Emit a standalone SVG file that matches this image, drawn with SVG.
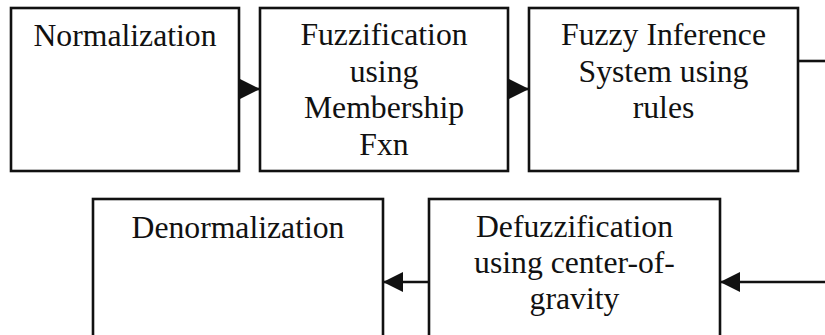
<svg xmlns="http://www.w3.org/2000/svg" width="825" height="335" viewBox="0 0 825 335">
  <defs>
    <style>
      .box { fill: #ffffff; stroke: #111111; stroke-width: 2.6; }
      .lbl { font-family: "Liberation Serif", "Times New Roman", serif; font-size: 31.7px; fill: #111111; text-anchor: middle; }
      .wire { fill: none; stroke: #111111; stroke-width: 2.6; }
    </style>
    <marker id="head" markerWidth="20" markerHeight="20" viewBox="0 0 20 20" refX="20" refY="10" orient="auto" markerUnits="userSpaceOnUse">
      <path d="M0,0 L20,10 L0,20 Z" fill="#111111"/>
    </marker>
  </defs>
  <rect width="825" height="335" fill="#ffffff"/>

  <g id="normalization">
    <rect class="box" x="11" y="8" width="228" height="163"/>
    <text class="lbl" x="125" y="46">Normalization</text>
  </g>

  <g id="fuzzification">
    <rect class="box" x="260" y="8" width="248" height="163"/>
    <text class="lbl" x="384" y="45">Fuzzification</text>
    <text class="lbl" x="384" y="82">using</text>
    <text class="lbl" x="384" y="118">Membership</text>
    <text class="lbl" x="384" y="155">Fxn</text>
  </g>

  <g id="inference">
    <rect class="box" x="529" y="8" width="269" height="163"/>
    <text class="lbl" x="663.5" y="45">Fuzzy Inference</text>
    <text class="lbl" x="663.5" y="82">System using</text>
    <text class="lbl" x="663.5" y="118">rules</text>
  </g>

  <g id="denormalization">
    <rect class="box" x="93" y="199" width="290" height="150"/>
    <text class="lbl" x="238" y="238">Denormalization</text>
  </g>

  <g id="defuzzification">
    <rect class="box" x="429" y="199" width="291" height="150"/>
    <text class="lbl" x="574.5" y="237">Defuzzification</text>
    <text class="lbl" x="574.5" y="273">using center-of-</text>
    <text class="lbl" x="574.5" y="309">gravity</text>
  </g>

  <g id="connectors">
    <line class="wire" x1="240" y1="89" x2="260" y2="89" marker-end="url(#head)"/>
    <line class="wire" x1="509" y1="89" x2="529" y2="89" marker-end="url(#head)"/>
    <line class="wire" x1="798" y1="61" x2="826" y2="61"/>
    <line class="wire" x1="826" y1="282" x2="720" y2="282" marker-end="url(#head)"/>
    <line class="wire" x1="429" y1="282" x2="383" y2="282" marker-end="url(#head)"/>
  </g>
</svg>
